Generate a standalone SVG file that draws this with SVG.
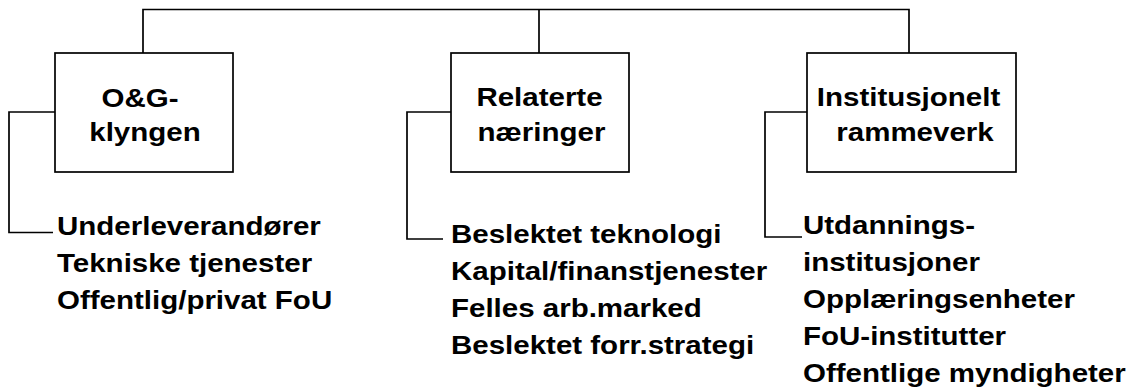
<svg xmlns="http://www.w3.org/2000/svg" width="1132" height="391" viewBox="0 0 1132 391">
<style>
  .box { fill: #ffffff; stroke: #000000; stroke-width: 1.7; }
  .conn { fill: none; stroke: #000000; stroke-width: 1.7; }
  text { font-family: "Liberation Sans", Arial, sans-serif; font-weight: bold; font-size: 25px; fill: #000000; }
  .mid { text-anchor: middle; }
</style>
<rect width="1132" height="391" fill="#ffffff"/>
<g id="connectors">
  <path class="conn" d="M143,53 V9.5 H909 V53"/>
  <path class="conn" d="M539,9.5 V53"/>
  <path class="conn" d="M55,112 H9 V232.5 H53"/>
  <path class="conn" d="M451,112 H407 V239 H443"/>
  <path class="conn" d="M807,112 H765 V237 H802"/>
</g>
<g id="node-og">
  <rect class="box" x="55" y="53" width="178" height="119"/>
  <g transform="translate(140,0) scale(1.18,1)"><text class="mid" x="0" y="107">O&amp;G-</text></g>
  <g transform="translate(145,0) scale(1.18,1)"><text class="mid" x="0" y="141.5">klyngen</text></g>
</g>
<g id="node-relaterte">
  <rect class="box" x="451" y="53" width="178" height="119"/>
  <g transform="translate(539.5,0) scale(1.18,1)"><text class="mid" x="0" y="106.5">Relaterte</text></g>
  <g transform="translate(541.5,0) scale(1.18,1)"><text class="mid" x="0" y="141.5">næringer</text></g>
</g>
<g id="node-institusjonelt">
  <rect class="box" x="807" y="53" width="209" height="119"/>
  <g transform="translate(908.5,0) scale(1.18,1)"><text class="mid" x="0" y="106.5">Institusjonelt</text></g>
  <g transform="translate(915,0) scale(1.18,1)"><text class="mid" x="0" y="141.5">rammeverk</text></g>
</g>
<g id="list-og" transform="translate(57,0) scale(1.18,1)">
  <text x="0" y="235">Underleverandører</text>
  <text x="0" y="272">Tekniske tjenester</text>
  <text x="0" y="309">Offentlig/privat FoU</text>
</g>
<g id="list-relaterte" transform="translate(451,0) scale(1.18,1)">
  <text x="0" y="243">Beslektet teknologi</text>
  <text x="0" y="280">Kapital/finanstjenester</text>
  <text x="0" y="317">Felles arb.marked</text>
  <text x="0" y="354">Beslektet forr.strategi</text>
</g>
<g id="list-institusjonelt" transform="translate(803,0) scale(1.18,1)">
  <text x="0" y="234">Utdannings-</text>
  <text x="0" y="271">institusjoner</text>
  <text x="0" y="308">Opplæringsenheter</text>
  <text x="0" y="345">FoU-institutter</text>
  <text x="0" y="382">Offentlige myndigheter</text>
</g>
</svg>
